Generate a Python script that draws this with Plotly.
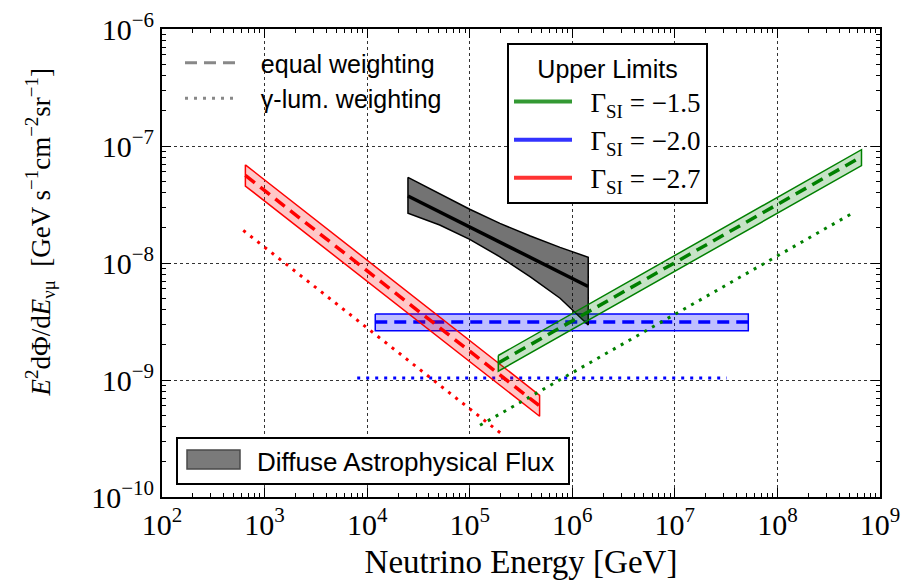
import plotly.graph_objects as go

# ---------------- data ----------------
# Gamma_SI = -2.7 (red)
red_E = [650, 4.8e5]
red_mid = [5.6e-8, 6.0e-10]
red_up = [6.9e-8, 7.4e-10]
red_lo = [4.55e-8, 4.9e-10]
red_dot_E = [620, 2.1e5]
red_dot_F = [1.9e-8, 3.4e-10]

# Gamma_SI = -2.0 (blue)
blue_E = [1.2e4, 5.2e7]
blue_mid = [3.13e-9, 3.13e-9]
blue_up = [3.66e-9, 3.66e-9]
blue_lo = [2.63e-9, 2.63e-9]
blue_dot_E = [8e3, 3.2e7]
blue_dot_F = [1.04e-9, 1.04e-9]

# Gamma_SI = -1.5 (green)
green_E = [1.9e5, 6.6e8]
green_mid = [1.4e-9, 8.1e-8]
green_up = [1.62e-9, 9.3e-8]
green_lo = [1.19e-9, 6.8e-8]
green_dot_E = [1.26e5, 5.4e8]
green_dot_F = [4.1e-10, 2.67e-8]

# Diffuse astrophysical flux (black band)
diff_E = [2.5e4, 5.1e4, 1.0e5, 1.97e5, 3.9e5, 7.6e5, 1.43e6]
diff_up = [5.4e-8, 3.94e-8, 2.88e-8, 2.18e-8, 1.70e-8, 1.36e-8, 1.12e-8]
diff_lo = [2.66e-8, 2.11e-8, 1.59e-8, 1.13e-8, 7.6e-9, 5.0e-9, 2.95e-9]
diff_mid_E = [2.5e4, 1.43e6]
diff_mid = [3.74e-8, 6.3e-9]

# axes ticks
x_tickvals = [1e2, 1e3, 1e4, 1e5, 1e6, 1e7, 1e8, 1e9]
x_ticktext = ["10<sup>2</sup>", "10<sup>3</sup>", "10<sup>4</sup>", "10<sup>5</sup>",
              "10<sup>6</sup>", "10<sup>7</sup>", "10<sup>8</sup>", "10<sup>9</sup>"]
y_tickvals = [1e-10, 1e-9, 1e-8, 1e-7, 1e-6]
y_ticktext = ["10<sup>−10</sup>", "10<sup>−9</sup>", "10<sup>−8</sup>", "10<sup>−7</sup>", "10<sup>−6</sup>"]

legend_labels = ["Γ<sub>SI</sub> = −1.5", "Γ<sub>SI</sub> = −2.0", "Γ<sub>SI</sub> = −2.7"]

# ---------------- figure ----------------
SERIF = "Liberation Serif"
SANS = "Liberation Sans"
DASH = "12px,7px"
DOT = "3px,6px"
NB = "\u00a0"

fig = go.Figure()


def band(E, up, lo, line_color, fill_color, lw=1.5):
    xs = list(E) + list(E)[::-1] + [E[0]]
    ys = list(up) + list(lo)[::-1] + [up[0]]
    fig.add_trace(go.Scatter(
        x=xs, y=ys, mode="lines", fill="toself", fillcolor=fill_color,
        line=dict(color=line_color, width=lw), hoverinfo="skip", showlegend=False))


# blue
band(blue_E, blue_up, blue_lo, "#0000ff", "rgba(0,0,255,0.25)")
fig.add_trace(go.Scatter(x=blue_E, y=blue_mid, mode="lines",
                         line=dict(color="#0000ff", width=3.5, dash=DASH), showlegend=False))
fig.add_trace(go.Scatter(x=blue_dot_E, y=blue_dot_F, mode="lines",
                         line=dict(color="#0000ff", width=3.2, dash=DOT), showlegend=False))
# red
band(red_E, red_up, red_lo, "#ff0000", "rgba(255,0,0,0.22)")
fig.add_trace(go.Scatter(x=red_E, y=red_mid, mode="lines",
                         line=dict(color="#ff0000", width=3.5, dash=DASH), showlegend=False))
fig.add_trace(go.Scatter(x=red_dot_E, y=red_dot_F, mode="lines",
                         line=dict(color="#ff0000", width=3, dash=DOT), showlegend=False))
# diffuse flux
band(diff_E, diff_up, diff_lo, "#000000", "rgba(0,0,0,0.55)")
fig.add_trace(go.Scatter(x=diff_mid_E, y=diff_mid, mode="lines",
                         line=dict(color="#000000", width=3.5), showlegend=False))
# green
band(green_E, green_up, green_lo, "#008000", "rgba(0,128,0,0.22)")
fig.add_trace(go.Scatter(x=green_E, y=green_mid, mode="lines",
                         line=dict(color="#008000", width=3.5, dash=DASH), showlegend=False))
fig.add_trace(go.Scatter(x=green_dot_E, y=green_dot_F, mode="lines",
                         line=dict(color="#008000", width=3, dash=DOT), showlegend=False))

# legend 1: weighting styles
fig.add_trace(go.Scatter(x=[None], y=[None], mode="lines", name=NB * 3 + "equal weighting",
                         line=dict(color="#888888", width=3, dash=DASH), legend="legend"))
fig.add_trace(go.Scatter(x=[None], y=[None], mode="lines", name=NB * 3 + "γ-lum. weighting",
                         line=dict(color="#888888", width=3, dash=DOT), legend="legend"))

# legend 2: upper limits
for lab, col in zip(legend_labels, ["rgba(0,128,0,0.8)", "rgba(0,0,255,0.8)", "rgba(255,0,0,0.8)"]):
    fig.add_trace(go.Scatter(x=[None], y=[None], mode="lines", name=NB * 2 + lab,
                             line=dict(color=col, width=4), legend="legend2"))

# legend 3: diffuse flux (patch drawn as shape below)
fig.add_trace(go.Scatter(x=[None], y=[None], mode="lines", name="Diffuse Astrophysical Flux",
                         line=dict(color="rgba(0,0,0,0)", width=1), legend="legend3"))

axis_common = dict(
    type="log", showline=True, linecolor="black", linewidth=2, mirror="allticks",
    ticks="inside", ticklen=9, tickwidth=1, tickcolor="black", automargin=False,
    showgrid=True, gridcolor="#333333", gridwidth=1, griddash="dot",
    zeroline=False, tickfont=dict(family=SERIF, size=30, color="black"),
    minor=dict(ticks="inside", ticklen=4, tickwidth=1, tickcolor="black", showgrid=False),
)

x_minor = [m * 10 ** k for k in range(2, 9) for m in range(2, 10)]
y_minor = [m * 10.0 ** k for k in range(-10, -6) for m in range(2, 10)]

fig.update_xaxes(**axis_common)
fig.update_xaxes(range=[2, 9], tickmode="array", tickvals=x_tickvals, ticktext=x_ticktext,
                 minor=dict(tickmode="array", tickvals=x_minor),
                 title=dict(text="Neutrino Energy [GeV]", font=dict(family=SERIF, size=33, color="black"),
                            standoff=10))
fig.update_yaxes(**axis_common)
fig.update_yaxes(range=[-10, -6], tickmode="array", tickvals=y_tickvals, ticktext=y_ticktext,
                 minor=dict(tickmode="array", tickvals=y_minor))

fig.add_annotation(
    text="<i>E</i><sup>2</sup>dΦ/d<i>E</i><sub>νμ</sub>  [GeV s<sup>−1</sup>cm<sup>−2</sup>sr<sup>−1</sup>]",
    xref="paper", yref="paper", x=-0.17, y=0.565, textangle=-90, showarrow=False,
    font=dict(family=SERIF, size=27, color="black"), xanchor="center", yanchor="middle")


def px_x(p):
    return (p - 162) / 718.0


def px_y(p):
    return 1 - (p - 29) / 468.0


# legend-3 box and patch
fig.add_shape(type="rect", xref="paper", yref="paper", layer="above",
              x0=px_x(177), x1=px_x(569), y0=px_y(484), y1=px_y(438),
              fillcolor="white", line=dict(color="black", width=2))
fig.add_shape(type="rect", xref="paper", yref="paper", layer="above",
              x0=px_x(187), x1=px_x(240), y0=px_y(469), y1=px_y(450),
              fillcolor="#7a7a7a", line=dict(color="#4a4a4a", width=1.5))

fig.update_layout(
    width=902, height=584,
    margin=dict(l=162, r=22, t=29, b=87),
    paper_bgcolor="white", plot_bgcolor="white",
    legend=dict(x=px_x(180), y=px_y(40), xanchor="left", yanchor="top", bgcolor="rgba(0,0,0,0)",
                borderwidth=0, font=dict(family=SANS, size=25, color="black"),
                itemwidth=50, tracegroupgap=0),
    legend2=dict(x=px_x(507), y=px_y(43), xanchor="left", yanchor="top", bgcolor="white",
                 bordercolor="black", borderwidth=2,
                 font=dict(family=SERIF, size=27, color="black"),
                 title=dict(text="Upper Limits", side="top center",
                            font=dict(family=SANS, size=25, color="black")),
                 itemwidth=58),
    legend3=dict(x=px_x(179), y=px_y(461), xanchor="left", yanchor="middle", bgcolor="rgba(0,0,0,0)",
                 borderwidth=0,
                 font=dict(family=SANS, size=26, color="black"), itemwidth=68),
    showlegend=True,
)

fig.write_html("out.html")
